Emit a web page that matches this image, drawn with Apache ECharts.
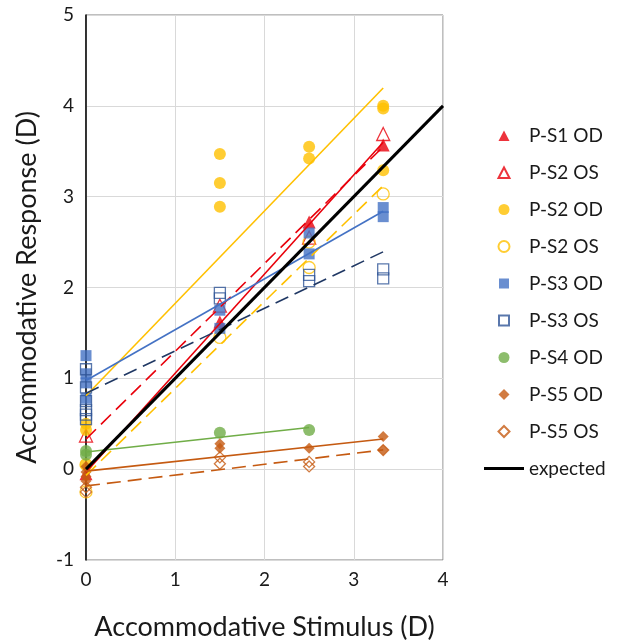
<!DOCTYPE html>
<html>
<head>
<meta charset="utf-8">
<script src="https://cdn.jsdelivr.net/npm/echarts@6/dist/echarts.min.js"></script>
<style>
  html, body { margin: 0; padding: 0; background: #fff; }
  #main { width: 631px; height: 643px; }
</style>
</head>
<body>
<div id="main"></div>
<script>
// stimulus levels (D), x positions of the measurements
var stimulus = [0, 1.5, 2.5, 3.33];

// responses (D) at each stimulus level
var ps1OD = [[-0.05], [1.62], [2.72], [3.57]];
var ps2OSRed = [[0.37], [1.8], [2.55], [3.69]];
var ps2OD = [[0.5, 0.43, 0.05], [3.47, 3.15, 2.89], [3.55, 3.42], [4.0, 3.97, 3.29]];
var ps2OS = [[0.05, -0.25], [1.45], [2.5, 2.22], [3.03]];
var ps3OD = [[1.25, 1.05, 0.95, 0.78], [1.75, 1.55], [2.6, 2.37], [2.88, 2.78]];
var ps3OS = [[1.1, 0.9, 0.75, 0.65, 0.6, 0.55], [1.94, 1.88], [2.14, 2.07], [2.2, 2.1]];
var ps4OD = [[0.2, 0.16], [0.4], [0.43], []];
var ps5OD = [[0.03, -0.03, -0.08, -0.13], [0.28, 0.23], [0.23], [0.36, 0.21]];
var ps5OS = [[-0.2, -0.25], [0.13, 0.06], [0.08, 0.03], [0.21]];
var expected = [[0, 0], [4, 4]];

var xTicks = [0, 1, 2, 3, 4];
var yTicks = [-1, 0, 1, 2, 3, 4, 5];

var FONT = 'Lato';

// legend icons drawn inside a 44x13 box (the two moveTo corners keep the box)
var BOX = 'path://M0,0M44,13';
var legendIcons = {
  triangle: BOX + 'M18.5,12L24,1.5L29.5,12Z',
  circle: BOX + 'M24,1A5.5,5.5,0,1,1,23.99,1Z',
  rect: BOX + 'M19,1.5H29V11.5H19Z',
  diamond: BOX + 'M24,1L29.5,6.5L24,12L18.5,6.5Z',
  line: BOX + 'M4,5H44V8H4Z'
};

// flatten rows -> [x, y] points
function points(rows) {
  var out = [];
  rows.forEach(function(vals, i) {
    vals.forEach(function(v) {
      out.push([stimulus[i], v]);
    });
  });
  return out;
}

// least squares trendline, from x=0 to the last stimulus measured
function trend(pts) {
  var n = pts.length, sx = 0, sy = 0, sxx = 0, sxy = 0, xmax = 0;
  pts.forEach(function(p) {
    sx += p[0]; sy += p[1]; sxx += p[0] * p[0]; sxy += p[0] * p[1];
    if (p[0] > xmax) xmax = p[0];
  });
  var m = (n * sxy - sx * sy) / (n * sxx - sx * sx);
  var b = (sy - m * sx) / n;
  return [[0, b], [xmax, b + m * xmax]];
}

// series look: name, data, marker, colour, open marker?, dashed trend?
var groups = [
  { name: 'P-S1 OD', rows: ps1OD, symbol: 'triangle', size: 13, color: '#E8000B', open: false, dash: false },
  { name: 'P-S2 OS', rows: ps2OSRed, symbol: 'triangle', size: 13, color: '#E8000B', open: true, dash: true },
  { name: 'P-S2 OD', rows: ps2OD, symbol: 'circle', size: 12, color: '#FFC000', open: false, dash: false },
  { name: 'P-S2 OS ', rows: ps2OS, symbol: 'circle', size: 12, color: '#FFC000', open: true, dash: true },
  { name: 'P-S3 OD', rows: ps3OD, symbol: 'rect', size: 11, color: '#4472C4', open: false, dash: false },
  { name: 'P-S3 OS', rows: ps3OS, symbol: 'rect', size: 11, color: '#2F5597', open: true, dash: true, line: '#203864' },
  { name: 'P-S4 OD', rows: ps4OD, symbol: 'circle', size: 12, color: '#70AD47', open: false, dash: false },
  { name: 'P-S5 OD', rows: ps5OD, symbol: 'diamond', size: 11, color: '#C55A11', open: false, dash: false },
  { name: 'P-S5 OS', rows: ps5OS, symbol: 'diamond', size: 11, color: '#C55A11', open: true, dash: true }
];

var series = [];
var legendData = [];
groups.forEach(function(g) {
  var pts = points(g.rows);
  series.push({
    name: g.name,
    type: 'scatter',
    symbol: g.symbol,
    symbolSize: g.size,
    z: 2,
    itemStyle: g.open
      ? { color: 'rgba(255,255,255,0)', borderColor: g.color, borderWidth: 1.3 }
      : { color: g.color },
    data: pts
  });
  series.push({
    name: g.name + ' trend',
    type: 'line',
    symbol: 'none',
    z: 3,
    silent: true,
    lineStyle: { color: g.line || g.color, width: 1.6, type: g.dash ? [14, 7] : 'solid' },
    data: trend(pts)
  });
  legendData.push({ name: g.name, icon: legendIcons[g.symbol] });
});
series.push({
  name: 'expected',
  type: 'line',
  symbol: 'none',
  z: 4,
  itemStyle: { color: '#000' },
  lineStyle: { color: '#000', width: 3 },
  data: expected
});
legendData.push({ name: 'expected', icon: legendIcons.line, itemStyle: { color: '#000', borderWidth: 0 } });

var option = {
  backgroundColor: '#fff',
  animation: false,
  textStyle: { fontFamily: FONT },
  grid: {
    left: 86, right: 188, top: 15, bottom: 83,
    outerBoundsMode: 'none',
    show: true, borderColor: '#7f7f7f', borderWidth: 1
  },
  legend: {
    data: legendData,
    orient: 'vertical',
    left: 474,
    top: 121,
    itemWidth: 44,
    itemHeight: 13,
    itemGap: 18,
    textStyle: { fontSize: 19, color: '#1a1a1a', fontFamily: FONT },
    formatter: function(name) { return name.trim(); }
  },
  xAxis: {
    type: 'value',
    min: xTicks[0], max: xTicks[xTicks.length - 1], interval: 1,
    name: 'Accommodative Stimulus (D)',
    nameLocation: 'middle',
    nameGap: 54,
    nameTextStyle: { fontSize: 27, color: '#1a1a1a', fontFamily: FONT },
    axisLine: { show: false },
    axisTick: { show: false },
    axisLabel: { fontSize: 19, color: '#1a1a1a', margin: 10 },
    splitLine: { lineStyle: { color: '#d9d9d9', width: 1 } }
  },
  yAxis: {
    type: 'value',
    min: yTicks[0], max: yTicks[yTicks.length - 1], interval: 1,
    name: 'Accommodative Response (D)',
    nameLocation: 'middle',
    nameGap: 45,
    nameRotate: 90,
    nameTextStyle: { fontSize: 27, color: '#1a1a1a', fontFamily: FONT },
    axisLine: { show: true, onZero: false, lineStyle: { color: '#000', width: 1.5 } },
    axisTick: { show: false },
    axisLabel: { fontSize: 19, color: '#1a1a1a', margin: 12 },
    splitLine: { lineStyle: { color: '#d9d9d9', width: 1 } }
  },
  series: series
};

var chart = echarts.init(document.getElementById('main'));
chart.setOption(option);
</script>
</body>
</html>
